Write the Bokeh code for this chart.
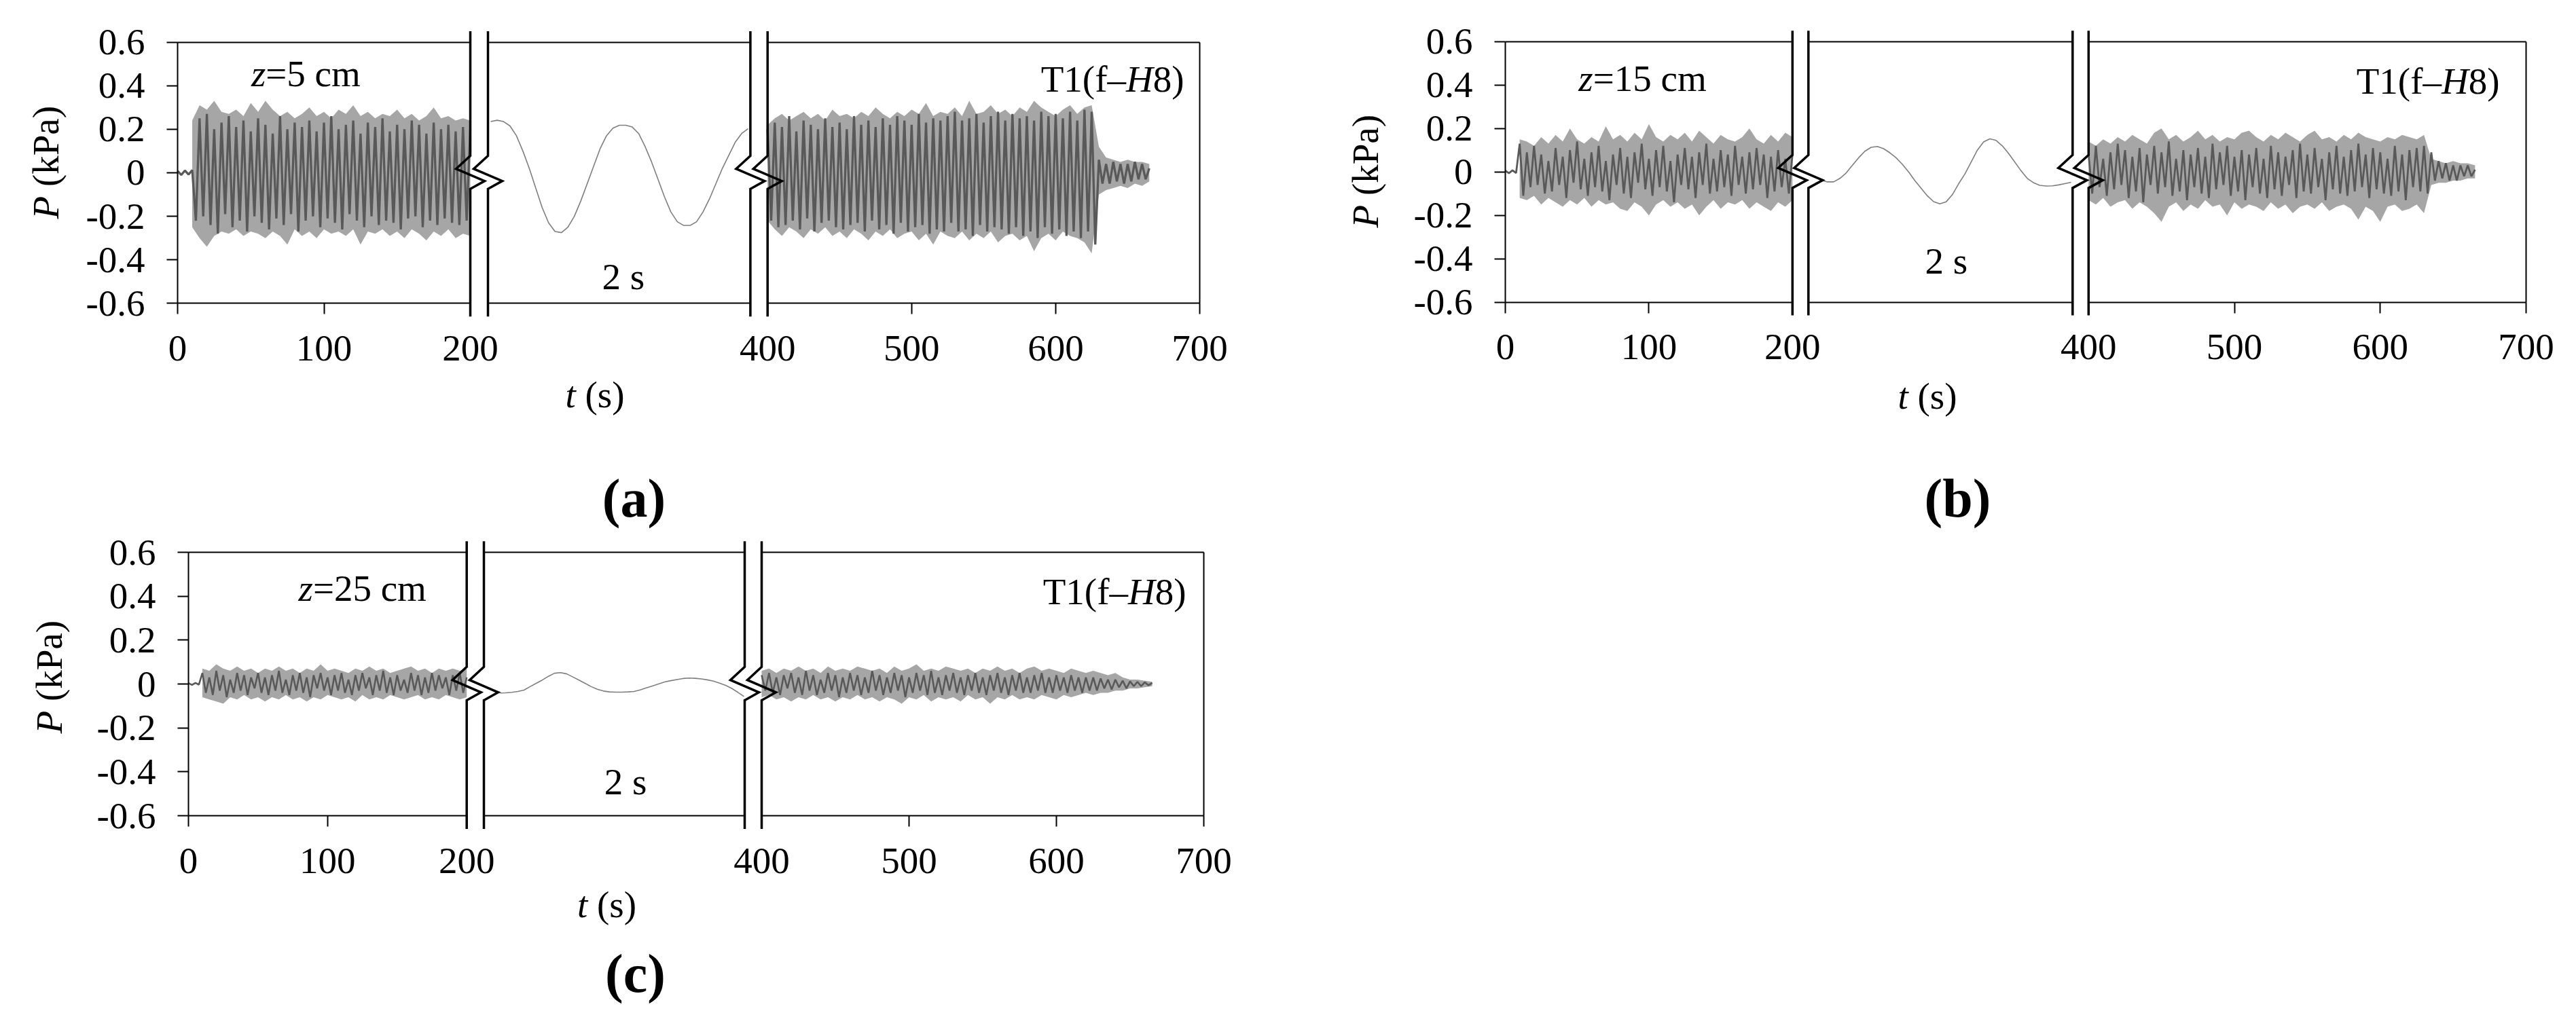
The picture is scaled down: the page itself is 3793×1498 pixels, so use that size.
import numpy as np
from bokeh.plotting import figure
from bokeh.models import Range1d, LinearAxis, FixedTicker, Label
from bokeh.embed import file_html
from bokeh.resources import INLINE

FONT = "Liberation Serif"
LIGHT = "#a6a6a6"
DARK = "#595959"
MIDC = "#7f7f7f"

# ---------------- axis ticks / labels ----------------
Y_TICKS = [-0.6, -0.4, -0.2, 0, 0.2, 0.4, 0.6]
Y_LABELS = ["-0.6", "-0.4", "-0.2", "0", "0.2", "0.4", "0.6"]
X_TICKS_LEFT = [0, 100, 200]
X_TICKS_RIGHT = [400, 500, 600, 700]

# sampling of the values
ENV_STEP = 5.0      # s, envelope samples
DK_STEP = 2.5       # s, dark trace peaks
MID_STEP = 0.05     # s, 2-s zoom window
LEFT_ENV_T0 = 10.0
LEFT_DK_T0 = 0.0
RIGHT_T0 = 400.0

# ---------------- panel (a) z = 5 cm ----------------
A_L_HI = [0.24, 0.31, 0.29, 0.33, 0.28, 0.27, 0.29, 0.26, 0.32, 0.28,
          0.33, 0.29, 0.26, 0.28, 0.25, 0.27, 0.30, 0.26, 0.28, 0.25,
          0.29, 0.27, 0.31, 0.26, 0.28, 0.25, 0.27, 0.26, 0.29, 0.25,
          0.27, 0.24, 0.26, 0.30, 0.25, 0.26, 0.24, 0.25, 0.24]
A_L_LO = [-0.25, -0.30, -0.34, -0.29, -0.27, -0.28, -0.26, -0.29, -0.27, -0.28,
          -0.30, -0.27, -0.29, -0.33, -0.26, -0.29, -0.27, -0.30, -0.26, -0.28,
          -0.27, -0.29, -0.26, -0.33, -0.27, -0.28, -0.26, -0.29, -0.27, -0.30,
          -0.26, -0.28, -0.31, -0.27, -0.29, -0.26, -0.30, -0.28, -0.29]
A_L_DK = [0.008, -0.010, 0.010, -0.008, 0.012, -0.22, 0.25, -0.20, 0.27, -0.24,
          0.20, -0.28, 0.23, -0.19, 0.26, -0.25, 0.21, -0.22, 0.24, -0.27,
          0.19, -0.20, 0.25, -0.23, 0.22, -0.26, 0.18, -0.21, 0.26, -0.24,
          0.20, -0.19, 0.23, -0.27, 0.21, -0.22, 0.24, -0.20, 0.19, -0.25,
          0.23, -0.21, 0.26, -0.23, 0.20, -0.26, 0.22, -0.19, 0.24, -0.22,
          0.18, -0.25, 0.23, -0.20, 0.21, -0.24, 0.25, -0.22, 0.19, -0.23,
          0.22, -0.26, 0.20, -0.21, 0.24, -0.20, 0.22, -0.25, 0.18, -0.22,
          0.23, -0.24, 0.20, -0.21, 0.22, -0.23, 0.19, -0.24, 0.21, -0.22,
          0.20]
A_R_HI = [0.22, 0.25, 0.27, 0.24, 0.26, 0.28, 0.25, 0.27, 0.24, 0.29,
          0.26, 0.27, 0.25, 0.28, 0.26, 0.30, 0.27, 0.25, 0.28, 0.26,
          0.29, 0.27, 0.32, 0.26, 0.28, 0.27, 0.30, 0.26, 0.33, 0.27,
          0.28, 0.31, 0.27, 0.29, 0.26, 0.30, 0.28, 0.33, 0.30, 0.28,
          0.26, 0.29, 0.31, 0.27, 0.30, 0.31, 0.12, 0.07, 0.06, 0.05,
          0.06, 0.05, 0.05, 0.04]
A_R_LO = [-0.22, -0.26, -0.29, -0.25, -0.27, -0.30, -0.26, -0.28, -0.25, -0.29,
          -0.27, -0.30, -0.26, -0.28, -0.31, -0.27, -0.29, -0.26, -0.30, -0.28,
          -0.27, -0.31, -0.28, -0.33, -0.27, -0.29, -0.30, -0.27, -0.31, -0.28,
          -0.30, -0.27, -0.32, -0.29, -0.28, -0.31, -0.29, -0.36, -0.30, -0.28,
          -0.31, -0.27, -0.29, -0.30, -0.32, -0.37, -0.10, -0.08, -0.07, -0.06,
          -0.07, -0.05, -0.06, -0.04]
A_R_DK = [0.20, -0.22, 0.23, -0.25, 0.21, -0.24, 0.26, -0.22, 0.19, -0.26,
          0.24, -0.21, 0.22, -0.27, 0.20, -0.23, 0.25, -0.22, 0.21, -0.25,
          0.23, -0.26, 0.20, -0.24, 0.26, -0.23, 0.22, -0.27, 0.24, -0.22,
          0.21, -0.26, 0.25, -0.24, 0.22, -0.28, 0.26, -0.23, 0.24, -0.27,
          0.22, -0.25, 0.27, -0.24, 0.23, -0.28, 0.25, -0.26, 0.24, -0.27,
          0.26, -0.23, 0.28, -0.27, 0.24, -0.26, 0.25, -0.29, 0.27, -0.24,
          0.23, -0.27, 0.26, -0.25, 0.28, -0.26, 0.24, -0.28, 0.27, -0.25,
          0.25, -0.29, 0.26, -0.27, 0.24, -0.30, 0.28, -0.25, 0.26, -0.28,
          0.27, -0.26, 0.25, -0.29, 0.28, -0.27, 0.24, -0.30, 0.29, -0.27,
          0.28, -0.33, 0.06, -0.05, 0.04, -0.05, 0.05, -0.04, 0.04, -0.05,
          0.04, -0.04, 0.05, -0.03, 0.04, -0.03, 0.02]
A_MID = [0.235, 0.241, 0.235, 0.215, 0.17, 0.10, 0.02, -0.07, -0.16, -0.23,
         -0.27, -0.275, -0.25, -0.20, -0.13, -0.05, 0.03, 0.11, 0.17, 0.205,
         0.218, 0.218, 0.21, 0.18, 0.12, 0.05, -0.03, -0.11, -0.18, -0.225,
         -0.242, -0.242, -0.225, -0.18, -0.12, -0.05, 0.02, 0.08, 0.14, 0.18,
         0.202]

# ---------------- panel (b) z = 15 cm ----------------
B_L_HI = [0.15, 0.14, 0.12, 0.16, 0.13, 0.17, 0.14, 0.20, 0.15, 0.13,
          0.16, 0.14, 0.21, 0.15, 0.17, 0.14, 0.18, 0.15, 0.22, 0.16,
          0.14, 0.17, 0.15, 0.18, 0.14, 0.19, 0.16, 0.13, 0.17, 0.15,
          0.14, 0.16, 0.20, 0.15, 0.13, 0.17, 0.14, 0.18, 0.16]
B_L_LO = [-0.12, -0.13, -0.11, -0.15, -0.12, -0.14, -0.16, -0.13, -0.15, -0.12,
          -0.16, -0.13, -0.15, -0.14, -0.17, -0.18, -0.14, -0.16, -0.20, -0.15,
          -0.13, -0.16, -0.14, -0.17, -0.15, -0.20, -0.16, -0.13, -0.17, -0.14,
          -0.15, -0.13, -0.17, -0.14, -0.16, -0.18, -0.14, -0.16, -0.13]
B_L_DK = [0.006, -0.006, 0.007, -0.005, 0.13, -0.11, 0.09, -0.07, 0.12, -0.06,
          0.08, -0.10, 0.05, -0.09, 0.11, -0.06, 0.07, -0.12, 0.10, -0.05,
          0.14, -0.08, 0.06, -0.11, 0.09, -0.07, 0.12, -0.09, 0.05, -0.13,
          0.08, -0.06, 0.11, -0.10, 0.07, -0.12, 0.09, -0.05, 0.13, -0.08,
          0.06, -0.11, 0.10, -0.07, 0.12, -0.09, 0.05, -0.14, 0.08, -0.06,
          0.11, -0.08, 0.07, -0.12, 0.09, -0.06, 0.13, -0.10, 0.06, -0.09,
          0.10, -0.07, 0.08, -0.11, 0.12, -0.06, 0.07, -0.10, 0.09, -0.08,
          0.11, -0.06, 0.08, -0.12, 0.07, -0.09, 0.10, -0.07, 0.06, -0.10,
          0.08]
B_R_HI = [0.14, 0.12, 0.15, 0.13, 0.16, 0.14, 0.17, 0.15, 0.13, 0.18,
          0.20, 0.15, 0.17, 0.14, 0.16, 0.19, 0.15, 0.17, 0.14, 0.16,
          0.15, 0.18, 0.19, 0.16, 0.14, 0.17, 0.15, 0.18, 0.16, 0.14,
          0.17, 0.19, 0.15, 0.16, 0.14, 0.17, 0.15, 0.18, 0.16, 0.15,
          0.14, 0.16, 0.15, 0.17, 0.16, 0.15, 0.17, 0.06, 0.05, 0.04,
          0.05, 0.04, 0.04, 0.03]
B_R_LO = [-0.13, -0.15, -0.12, -0.16, -0.14, -0.13, -0.17, -0.14, -0.16, -0.19,
          -0.23, -0.16, -0.14, -0.18, -0.15, -0.17, -0.13, -0.16, -0.15, -0.20,
          -0.14, -0.17, -0.15, -0.16, -0.18, -0.14, -0.17, -0.15, -0.19, -0.16,
          -0.15, -0.17, -0.14, -0.18, -0.16, -0.15, -0.17, -0.22, -0.16, -0.18,
          -0.23, -0.16, -0.15, -0.18, -0.17, -0.15, -0.19, -0.06, -0.05, -0.05,
          -0.04, -0.04, -0.03, -0.03]
B_R_DK = [0.08, -0.10, 0.12, -0.07, 0.06, -0.11, 0.09, -0.08, 0.13, -0.06,
          0.10, -0.12, 0.07, -0.09, 0.11, -0.14, 0.08, -0.06, 0.12, -0.10,
          0.09, -0.07, 0.14, -0.11, 0.06, -0.09, 0.10, -0.13, 0.08, -0.07,
          0.11, -0.10, 0.07, -0.12, 0.13, -0.08, 0.09, -0.06, 0.12, -0.11,
          0.07, -0.09, 0.10, -0.13, 0.08, -0.07, 0.11, -0.10, 0.06, -0.12,
          0.12, -0.08, 0.09, -0.11, 0.07, -0.06, 0.10, -0.12, 0.13, -0.09,
          0.08, -0.10, 0.11, -0.07, 0.06, -0.13, 0.09, -0.08, 0.12, -0.10,
          0.07, -0.11, 0.10, -0.09, 0.13, -0.07, 0.08, -0.12, 0.11, -0.08,
          0.09, -0.10, 0.06, -0.11, 0.12, -0.09, 0.08, -0.13, 0.10, -0.07,
          0.11, -0.09, 0.12, -0.10, 0.09, -0.04, 0.05, -0.03, 0.04, -0.04,
          0.03, -0.04, 0.03, -0.02, 0.03, -0.02, 0.01]
B_MID = [-0.038, -0.046, -0.046, -0.03, -0.005, 0.03, 0.065, 0.095, 0.113, 0.117,
         0.107, 0.088, 0.065, 0.035, 0.0, -0.04, -0.075, -0.11, -0.137, -0.147,
         -0.138, -0.105, -0.055, -0.01, 0.045, 0.10, 0.138, 0.152, 0.145, 0.12,
         0.085, 0.045, 0.005, -0.03, -0.05, -0.062, -0.065, -0.064, -0.06, -0.054,
         -0.048]

# ---------------- panel (c) z = 25 cm ----------------
C_L_HI = [0.07, 0.06, 0.09, 0.07, 0.06, 0.08, 0.06, 0.07, 0.05, 0.07,
          0.06, 0.08, 0.06, 0.07, 0.05, 0.07, 0.06, 0.09, 0.06, 0.07,
          0.06, 0.05, 0.07, 0.06, 0.08, 0.06, 0.07, 0.05, 0.06, 0.07,
          0.08, 0.06, 0.07, 0.05, 0.07, 0.06, 0.07, 0.06, 0.07]
C_L_LO = [-0.06, -0.07, -0.08, -0.09, -0.06, -0.07, -0.05, -0.07, -0.06, -0.08,
          -0.06, -0.07, -0.05, -0.07, -0.06, -0.08, -0.06, -0.07, -0.05, -0.06,
          -0.07, -0.06, -0.08, -0.05, -0.07, -0.06, -0.07, -0.05, -0.06, -0.07,
          -0.06, -0.05, -0.07, -0.06, -0.07, -0.05, -0.06, -0.07, -0.06]
C_L_DK = [0.004, -0.004, 0.005, -0.003, 0.05, -0.04, 0.03, -0.05, 0.06, -0.03,
          0.04, -0.06, 0.02, -0.04, 0.05, -0.03, 0.04, -0.05, 0.03, -0.02,
          0.05, -0.04, 0.03, -0.05, 0.04, -0.03, 0.06, -0.04, 0.02, -0.05,
          0.04, -0.03, 0.05, -0.04, 0.03, -0.06, 0.04, -0.02, 0.05, -0.03,
          0.03, -0.05, 0.04, -0.03, 0.05, -0.04, 0.02, -0.05, 0.04, -0.03,
          0.05, -0.02, 0.03, -0.05, 0.04, -0.03, 0.06, -0.04, 0.03, -0.05,
          0.04, -0.03, 0.02, -0.04, 0.05, -0.03, 0.04, -0.05, 0.03, -0.04,
          0.05, -0.03, 0.04, -0.02, 0.03, -0.05, 0.04, -0.03, 0.05, -0.04,
          0.03]
C_R_HI = [0.06, 0.07, 0.05, 0.07, 0.06, 0.08, 0.06, 0.07, 0.05, 0.08,
          0.06, 0.07, 0.06, 0.08, 0.07, 0.06, 0.07, 0.05, 0.08, 0.06,
          0.07, 0.09, 0.06, 0.07, 0.06, 0.08, 0.07, 0.06, 0.07, 0.05,
          0.07, 0.06, 0.08, 0.06, 0.07, 0.05, 0.07, 0.08, 0.06, 0.07,
          0.06, 0.05, 0.07, 0.06, 0.05, 0.06, 0.05, 0.04, 0.05, 0.03,
          0.02, 0.02, 0.015, 0.01]
C_R_LO = [-0.06, -0.05, -0.07, -0.06, -0.08, -0.06, -0.07, -0.05, -0.07, -0.06,
          -0.08, -0.06, -0.07, -0.05, -0.07, -0.06, -0.08, -0.06, -0.07, -0.09,
          -0.06, -0.07, -0.05, -0.08, -0.06, -0.07, -0.06, -0.08, -0.05, -0.07,
          -0.06, -0.09, -0.06, -0.07, -0.05, -0.07, -0.06, -0.07, -0.05, -0.06,
          -0.07, -0.05, -0.06, -0.05, -0.04, -0.05, -0.04, -0.04, -0.03, -0.03,
          -0.02, -0.02, -0.015, -0.01]
C_R_DK = [0.04, -0.03, 0.05, -0.04, 0.03, -0.05, 0.04, -0.02, 0.05, -0.04,
          0.03, -0.05, 0.06, -0.03, 0.04, -0.05, 0.02, -0.04, 0.05, -0.03,
          0.04, -0.06, 0.03, -0.04, 0.05, -0.03, 0.04, -0.05, 0.03, -0.04,
          0.06, -0.03, 0.04, -0.05, 0.03, -0.04, 0.05, -0.03, 0.04, -0.06,
          0.03, -0.04, 0.05, -0.03, 0.04, -0.05, 0.06, -0.04, 0.03, -0.05,
          0.04, -0.03, 0.05, -0.04, 0.03, -0.05, 0.04, -0.03, 0.05, -0.04,
          0.03, -0.05, 0.04, -0.03, 0.05, -0.04, 0.03, -0.05, 0.04, -0.03,
          0.05, -0.04, 0.03, -0.04, 0.04, -0.03, 0.05, -0.04, 0.03, -0.04,
          0.04, -0.03, 0.03, -0.04, 0.04, -0.03, 0.03, -0.04, 0.03, -0.03,
          0.03, -0.03, 0.025, -0.02, 0.02, -0.025, 0.02, -0.015, 0.015, -0.02,
          0.012, -0.01, 0.01, -0.01, 0.008, -0.006, 0.005]
C_MID = [-0.041, -0.04, -0.038, -0.034, -0.028, -0.012, 0.003, 0.018, 0.035, 0.049,
         0.052, 0.046, 0.032, 0.018, 0.003, -0.012, -0.024, -0.032, -0.036, -0.037,
         -0.037, -0.036, -0.034, -0.027, -0.018, -0.009, 0.0, 0.009, 0.015, 0.02,
         0.025, 0.027, 0.026, 0.023, 0.019, 0.013, 0.004, -0.006, -0.02, -0.038,
         -0.057]

# ---------------- layout: one canvas, page pixels on the default ranges ----------------
TOTAL_W, TOTAL_H = 3785, 1490
Y_TOP, Y_BOT = 0.65, -0.66
BRK_DX = [0, 0, -21, 21, 0, 0]
BRK_Y = [Y_TOP, 0.078, 0.018, -0.038, -0.074, Y_BOT]
BASE_FIX = 0.26      # em: shift of label anchor to land the baseline where wanted
ROT_FIX = 18         # px: same for the rotated axis titles

PANELS = [
    dict(name="a", L=261, x200=692, x400=1129.7, x700=1766, m0=722, m2=1101,
         y06=61.5, ym06=446.4, brk=[692, 718, 1104.4, 1129.7],
         data=(A_L_HI, A_L_LO, A_L_DK, A_R_HI, A_R_LO, A_R_DK, A_MID), dkw=3.3,
         labels=[(84.5, 322, "P", "italic", "left", 90, 55),
                 (84.5, 274.6, "(kPa)", "normal", "left", 90, 55),
                 (369.4, 122, "z", "italic", "left", 0, 55),
                 (390.8, 122, "=5 cm", "normal", "left", 0, 55),
                 (1657.5, 130, "T1(f\u2013", "normal", "right", 0, 55),
                 (1657.5, 130, "H", "italic", "left", 0, 55),
                 (1697.2, 130, "8)", "normal", "left", 0, 55),
                 (886, 421, "2 s", "normal", "left", 0, 55),
                 (832, 595, "t", "italic", "left", 0, 55),
                 (861, 595, "(s)", "normal", "left", 0, 55),
                 (933, 754, "(a)", "bold", "center", 0, 80)]),
    dict(name="b", L=2216, x200=2638.8, x400=3074.8, x700=3719, m0=2681, m2=3049,
         y06=60.7, ym06=444.7, brk=[2638.8, 2662.3, 3051.3, 3074.8],
         data=(B_L_HI, B_L_LO, B_L_DK, B_R_HI, B_R_LO, B_R_DK, B_MID), dkw=2.8,
         labels=[(2028, 335, "P", "italic", "left", 90, 55),
                 (2028, 287.6, "(kPa)", "normal", "left", 90, 55),
                 (2323.8, 129, "z", "italic", "left", 0, 55),
                 (2345.2, 129, "=15 cm", "normal", "left", 0, 55),
                 (3594.5, 133, "T1(f\u2013", "normal", "right", 0, 55),
                 (3594.5, 133, "H", "italic", "left", 0, 55),
                 (3634.2, 133, "8)", "normal", "left", 0, 55),
                 (2834, 398, "2 s", "normal", "left", 0, 55),
                 (2794, 597, "t", "italic", "left", 0, 55),
                 (2823, 597, "(s)", "normal", "left", 0, 55),
                 (2882, 754, "(b)", "bold", "center", 0, 80)]),
    dict(name="c", L=277, x200=686.7, x400=1121, x700=1772, m0=735, m2=1095,
         y06=813, ym06=1201, brk=[686.7, 712, 1096, 1121],
         data=(C_L_HI, C_L_LO, C_L_DK, C_R_HI, C_R_LO, C_R_DK, C_MID), dkw=2.6,
         labels=[(90, 1080, "P", "italic", "left", 90, 55),
                 (90, 1032.6, "(kPa)", "normal", "left", 90, 55),
                 (439, 880, "z", "italic", "left", 0, 55),
                 (460.4, 880, "=25 cm", "normal", "left", 0, 55),
                 (1660.5, 885, "T1(f\u2013", "normal", "right", 0, 55),
                 (1660.5, 885, "H", "italic", "left", 0, 55),
                 (1700.2, 885, "8)", "normal", "left", 0, 55),
                 (889.3, 1165, "2 s", "normal", "left", 0, 55),
                 (849.5, 1346, "t", "italic", "left", 0, 55),
                 (878.5, 1346, "(s)", "normal", "left", 0, 55),
                 (935, 1454, "(c)", "bold", "center", 0, 80)]),
]


def add_axis(p, side, loc, bounds, ticks, xname, yname, overrides=None,
             standoff=32, lw=2):
    ticks = list(ticks)
    ax = LinearAxis(ticker=FixedTicker(ticks=ticks, minor_ticks=[]),
                    fixed_location=loc, bounds=bounds,
                    x_range_name=xname, y_range_name=yname,
                    axis_line_width=lw, axis_line_color="black",
                    major_tick_line_width=lw, major_tick_line_color="black",
                    major_tick_out=16 if ticks else 0, major_tick_in=0,
                    minor_tick_line_color=None, minor_tick_out=0, minor_tick_in=0,
                    major_label_standoff=standoff,
                    major_label_text_font=FONT, major_label_text_font_size="55px",
                    major_label_text_color="black")
    if overrides:
        ax.major_label_overrides = overrides
    p.add_layout(ax, side)


def panel_ranges(sp):
    L = sp["L"]
    s1 = (sp["x200"] - L) / 200.0
    s3 = (sp["x700"] - sp["x400"]) / 300.0
    sm = (sp["m2"] - sp["m0"]) / 2.0
    sy = (sp["ym06"] - sp["y06"]) / 1.2
    y0 = (sp["ym06"] + sp["y06"]) / 2.0

    def xl(px):
        return (px - L) / s1

    def xr(px):
        return 400 + (px - sp["x400"]) / s3

    def xmid(px):
        return (px - sp["m0"]) / sm

    def yv(py):
        return (y0 - py) / sy

    k = sp["name"]
    xs = {k + "l": Range1d(xl(0), xl(TOTAL_W)),
          k + "r": Range1d(xr(0), xr(TOTAL_W)),
          k + "m": Range1d(xmid(0), xmid(TOTAL_W))}
    ys = {k + "y": Range1d(yv(TOTAL_H), yv(0))}
    return xs, ys, xmid


p = figure(frame_width=TOTAL_W, frame_height=TOTAL_H,
           x_range=Range1d(0, TOTAL_W), y_range=Range1d(TOTAL_H, 0),
           x_axis_location=None, y_axis_location=None,
           toolbar_location=None, output_backend="svg",
           min_border=0, min_border_left=0, min_border_right=0,
           min_border_top=0, min_border_bottom=0)
p.background_fill_color = "white"
p.border_fill_color = "white"
p.outline_line_color = None
p.grid.visible = False

all_x, all_y, mid_maps = {}, {}, {}
for sp in PANELS:
    xs, ys, xmid = panel_ranges(sp)
    all_x.update(xs)
    all_y.update(ys)
    mid_maps[sp["name"]] = xmid
p.extra_x_ranges = all_x
p.extra_y_ranges = all_y

for sp in PANELS:
    k = sp["name"]
    yk = k + "y"
    l_hi, l_lo, l_dk, r_hi, r_lo, r_dk, mid = sp["data"]

    n = min(len(l_hi), len(l_lo))
    p.varea(x=LEFT_ENV_T0 + ENV_STEP * np.arange(n), y1=l_lo[:n], y2=l_hi[:n],
            fill_color=LIGHT, x_range_name=k + "l", y_range_name=yk)
    p.line(LEFT_DK_T0 + DK_STEP * np.arange(len(l_dk)), l_dk,
           line_color=DARK, line_width=sp["dkw"], x_range_name=k + "l", y_range_name=yk)
    n = min(len(r_hi), len(r_lo))
    p.varea(x=RIGHT_T0 + ENV_STEP * np.arange(n), y1=r_lo[:n], y2=r_hi[:n],
            fill_color=LIGHT, x_range_name=k + "r", y_range_name=yk)
    p.line(RIGHT_T0 + DK_STEP * np.arange(len(r_dk)), r_dk,
           line_color=DARK, line_width=sp["dkw"], x_range_name=k + "r", y_range_name=yk)
    p.line(MID_STEP * np.arange(len(mid)), mid, line_color=MIDC, line_width=1.6,
           x_range_name=k + "m", y_range_name=yk)

    # axis-break symbols (x in page pixels, y in the panel's data units)
    for X in sp["brk"]:
        p.line([X + dx for dx in BRK_DX], BRK_Y, line_color="black", line_width=3.5,
               line_join="miter", y_range_name=yk)

    bx = sp["brk"]
    xmid = mid_maps[k]
    mlo, mhi = xmid(bx[1]), xmid(bx[2])
    add_axis(p, "left", 0, (-0.6, 0.6), Y_TICKS, k + "l", yk,
             overrides=dict(zip(Y_TICKS, Y_LABELS)), standoff=32)
    add_axis(p, "below", -0.6, (0, 200), X_TICKS_LEFT, k + "l", yk)
    add_axis(p, "below", -0.6, (400, 700), X_TICKS_RIGHT, k + "r", yk)
    add_axis(p, "below", -0.6, (mlo, mhi), [], k + "m", yk)
    add_axis(p, "above", 0.6, (0, 200), [], k + "l", yk)
    add_axis(p, "above", 0.6, (mlo, mhi), [], k + "m", yk)
    add_axis(p, "above", 0.6, (400, 700), [], k + "r", yk)
    add_axis(p, "right", 700, (-0.6, 0.6), [], k + "r", yk)

    for (px, py, txt, style, align, ang, size) in sp["labels"]:
        if ang:
            px = px - ROT_FIX
        else:
            py = py - BASE_FIX * size
        p.add_layout(Label(x=float(px), y=float(py), text=txt,
                           text_font=FONT, text_font_size=f"{size}px",
                           text_font_style=style, text_align=align,
                           text_baseline="alphabetic", text_color="black",
                           angle=float(np.deg2rad(ang))))

open("out.html", "w", encoding="utf-8").write(file_html(p, INLINE))
